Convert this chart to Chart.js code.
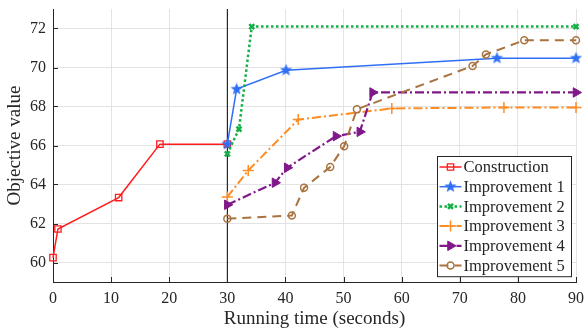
<!DOCTYPE html>
<html>
<head>
<meta charset="utf-8">
<script src="https://cdn.jsdelivr.net/npm/chart.js@4/dist/chart.umd.min.js"></script>
<style>
  html, body { margin: 0; padding: 0; background: #fff; }
  canvas { display: block; }
</style>
</head>
<body>
<canvas id="chart" width="585" height="332"></canvas>
<script>
// ---- data ----
const seriesNames = ['Construction', 'Improvement 1', 'Improvement 2', 'Improvement 3', 'Improvement 4', 'Improvement 5'];
const xTicks = [0, 10, 20, 30, 40, 50, 60, 70, 80, 90];
const yTicks = [60, 62, 64, 66, 68, 70, 72];

const construction = [[0, 60.25], [0.85, 61.72], [11.3, 63.33], [18.4, 66.07], [30, 66.07]];
const improvement1 = [[30, 66.07], [31.6, 68.89], [40.1, 69.86], [76.4, 70.48], [90, 70.48]];
const improvement2 = [[30, 65.57], [32.0, 66.84], [34.2, 72.1], [90, 72.1]];
const improvement3 = [[30, 63.36], [33.6, 64.72], [42.2, 67.33], [58.3, 67.9], [77.6, 67.95], [90, 67.95]];
const improvement4 = [[30, 62.96], [38.2, 64.09], [40.3, 64.86], [48.7, 66.48], [52.8, 66.7], [55.0, 68.72], [90, 68.72]];
const improvement5 = [[30, 62.25], [41.1, 62.41], [43.2, 63.83], [47.7, 64.9], [50.1, 65.96], [52.3, 67.86],
                      [72.2, 70.08], [74.5, 70.67], [81.1, 71.4], [90, 71.4]];
const cutTime = 30;

const FONT = "'Liberation Serif', 'Times New Roman', serif";
const INK = '#262626';

// 塗りつぶし五芒星マーカー
function makeStar(color, r) {
    const c = document.createElement('canvas');
    const s = Math.ceil(r * 2 + 2);
    c.width = s; c.height = s;
    const g = c.getContext('2d');
    g.fillStyle = color;
    g.beginPath();
    for (let i = 0; i < 10; i++) {
        const rad = i % 2 === 0 ? r : r * 0.42;
        const a = -Math.PI / 2 + i * Math.PI / 5;
        const px = s / 2 + rad * Math.cos(a);
        const py = s / 2 + rad * Math.sin(a);
        i === 0 ? g.moveTo(px, py) : g.lineTo(px, py);
    }
    g.closePath();
    g.fill();
    return c;
}

const toXY = arr => arr.map(p => ({ x: p[0], y: p[1] }));

const styles = [
    { color: '#ff1c1c', dash: [], width: 1.5, point: 'rect', radius: 4.5, pw: 1.3, fill: 'transparent' },
    { color: '#2f6ff5', dash: [], width: 1.5, point: makeStar('#2f6ff5', 6.5), radius: 6, pw: 1, fill: '#2f6ff5' },
    { color: '#14b046', dash: [2.5, 2.5], width: 2.5, point: 'crossRot', radius: 3.5, pw: 2.5, fill: '#14b046' },
    { color: '#ff8c22', dash: [9, 3, 2, 3], width: 2, point: 'cross', radius: 5.5, pw: 1.5, fill: '#ff8c22' },
    { color: '#80188a', dash: [9, 3, 2, 3], width: 2.2, point: 'triangle', radius: 5.5, pw: 1, fill: '#80188a', rot: 90 },
    { color: '#a8733f', dash: [9, 6], width: 2, point: 'circle', radius: 3.5, pw: 1.5, fill: 'transparent' }
];
const seriesData = [construction, improvement1, improvement2, improvement3, improvement4, improvement5];

const datasets = seriesData.map((d, i) => {
    const s = styles[i];
    return {
        label: seriesNames[i],
        data: toXY(d),
        borderColor: s.color,
        borderWidth: s.width,
        borderDash: s.dash,
        pointStyle: s.point,
        pointRadius: s.radius,
        pointBorderWidth: s.pw,
        pointBorderColor: s.color,
        pointBackgroundColor: s.fill,
        pointRotation: s.rot || 0,
        order: 6 - i,
        clip: false,
        tension: 0
    };
});

// 30秒の縦線
datasets.push({
    label: '',
    data: [{ x: cutTime, y: 59 }, { x: cutTime, y: 73 }],
    borderColor: '#000',
    borderWidth: 1,
    pointRadius: 0,
    order: 10
});

// 内向きの目盛り
const innerTicks = {
    id: 'innerTicks',
    afterDatasetsDraw(chart) {
        const ctx = chart.ctx;
        const a = chart.chartArea;
        const xs = chart.scales.x, ys = chart.scales.y;
        ctx.save();
        ctx.strokeStyle = INK;
        ctx.lineWidth = 1;
        ctx.beginPath();
        xTicks.forEach(v => {
            const px = Math.round(xs.getPixelForValue(v)) + 0.5;
            ctx.moveTo(px, a.bottom); ctx.lineTo(px, a.bottom - 5);
        });
        yTicks.forEach(v => {
            const py = Math.round(ys.getPixelForValue(v)) + 0.5;
            ctx.moveTo(a.left, py); ctx.lineTo(a.left + 5, py);
        });
        ctx.stroke();
        ctx.restore();
    }
};

// 枠付き凡例（線サンプル＋マーカー）
const boxLegend = {
    id: 'boxLegend',
    afterDraw(chart) {
        const ctx = chart.ctx;
        const a = chart.chartArea;
        const rowH = 19.7;
        const boxW = 134, boxH = seriesNames.length * rowH + 2;
        const x0 = Math.round(a.right - 5 - boxW) + 0.5;
        const y0 = Math.round(a.bottom - 6 - boxH) + 0.5;
        ctx.save();
        ctx.fillStyle = '#fff';
        ctx.strokeStyle = INK;
        ctx.lineWidth = 1;
        ctx.fillRect(x0, y0, boxW, boxH);
        ctx.strokeRect(x0, y0, boxW, boxH);
        seriesNames.forEach((name, i) => {
            const s = styles[i];
            const cy = y0 + 10.5 + i * rowH;
            ctx.strokeStyle = s.color;
            ctx.lineWidth = s.width;
            ctx.setLineDash(s.dash);
            ctx.beginPath();
            ctx.moveTo(x0 + 2, cy); ctx.lineTo(x0 + 24, cy);
            ctx.stroke();
            ctx.setLineDash([]);
            ctx.fillStyle = s.fill;
            ctx.lineWidth = s.pw;
            Chart.helpers.drawPoint(ctx, {
                pointStyle: s.point, radius: s.radius, rotation: s.rot || 0, borderWidth: s.pw
            }, x0 + 13, cy);
            ctx.fillStyle = INK;
            ctx.font = '16.5px ' + FONT;
            ctx.textBaseline = 'middle';
            ctx.fillText(name, x0 + 26, cy + 1);
        });
        ctx.restore();
    }
};

new Chart(document.getElementById('chart'), {
    type: 'line',
    data: { datasets },
    options: {
        responsive: false,
        animation: false,
        devicePixelRatio: 1,
        layout: { padding: { top: 9, right: 9, left: 0, bottom: 0 } },
        plugins: { legend: { display: false }, tooltip: { enabled: false } },
        scales: {
            x: {
                type: 'linear',
                min: 0, max: 90,
                afterBuildTicks: s => { s.ticks = xTicks.map(v => ({ value: v })); },
                afterFit: s => { s.height = 50; s.paddingLeft = 0; s.paddingRight = 0; },
                grid: { color: '#e3e3e3', drawTicks: false },
                border: { color: INK, width: 1 },
                ticks: { color: INK, padding: 7, font: { family: FONT, size: 16 }, maxRotation: 0 },
                title: {
                    display: true, text: 'Running time (seconds)', color: INK,
                    font: { family: FONT, size: 19 }, padding: { top: 0, bottom: 2 }
                }
            },
            y: {
                type: 'linear',
                min: 59, max: 73,
                afterBuildTicks: s => { s.ticks = yTicks.map(v => ({ value: v })); },
                afterFit: s => { s.width = 53; s.paddingTop = 0; s.paddingBottom = 0; },
                grid: { color: '#e3e3e3', drawTicks: false },
                border: { color: INK, width: 1 },
                ticks: { color: INK, padding: 7, font: { family: FONT, size: 16 } },
                title: {
                    display: true, text: 'Objective value', color: INK,
                    font: { family: FONT, size: 19 }, padding: { top: 4, bottom: 0 }
                }
            }
        }
    },
    plugins: [innerTicks, boxLegend]
});
</script>
</body>
</html>
